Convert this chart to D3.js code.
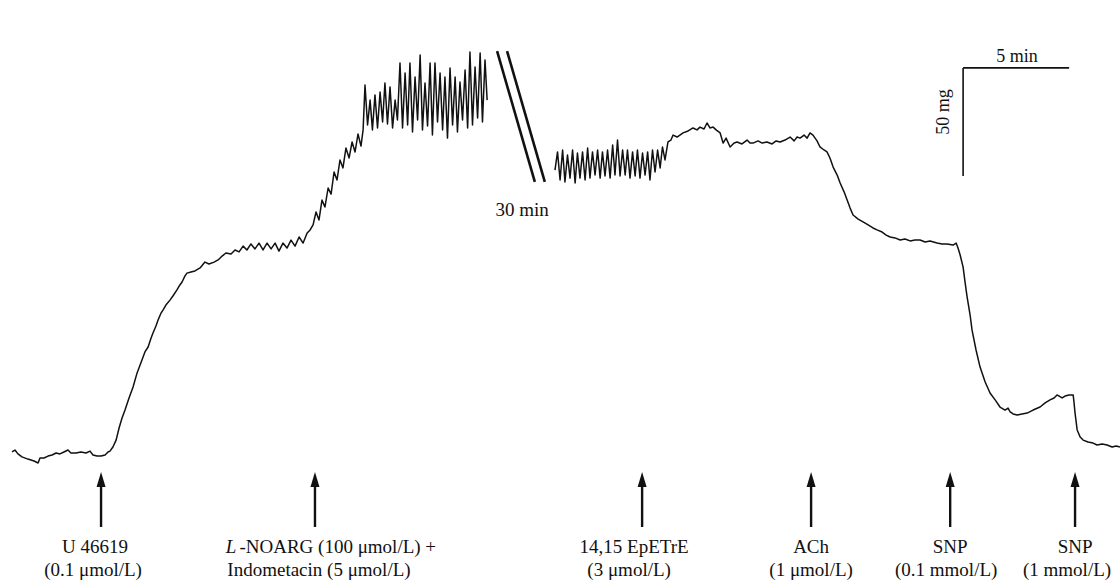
<!DOCTYPE html>
<html lang="en">
<head>
<meta charset="UTF-8">
<title>Isometric tension trace</title>
<script src="https://d3js.org/d3.v7.min.js"></script>
<style>
    body { margin: 0; background: #fff; }
    svg { display: block; }
    .trace { fill: none; stroke: #111; stroke-width: 1.5; stroke-linejoin: round; }
    .label { font-family: "Liberation Serif", "Times New Roman", serif; font-size: 19px; fill: #111; }
    .bar { stroke: #111; stroke-width: 1.6; }
    .brk { stroke: #111; stroke-width: 2.6; }
    .arrow line { stroke: #111; stroke-width: 2.4; }
    .arrow path { fill: #111; }
</style>
</head>
<body>
<svg id="chart"></svg>
<script>
// trace before the break: [time (min), tension (mg)]
const traceBefore = [
    [0,2.8],[0.14,3.7],[0.28,1.9],[0.47,0.5],[0.75,-0.5],[1.04,-1.4],[1.23,-2.3],[1.32,0],[1.51,0],[1.70,0.9],
    [1.89,1.4],[2.08,2.3],[2.26,1.9],[2.45,2.8],[2.64,3.7],[2.78,2.3],[3.02,2.3],[3.25,2.8],[3.49,2.3],[3.68,3.2],
    [3.82,1.4],[4.01,0.9],[4.20,0.9],[4.39,1.4],[4.53,2.8],[4.62,3.2],[4.76,5.1],[4.91,8.3],[5.05,13.9],[5.19,18.5],
    [5.33,22.2],[5.52,27.8],[5.71,32.9],[5.90,39.4],[6.13,45.4],[6.27,49.1],[6.42,51.4],[6.56,55.6],[6.65,57.9],[6.79,61.1],
    [6.89,63.9],[7.03,67.1],[7.12,68.5],[7.26,70.8],[7.45,73.1],[7.59,75.0],[7.78,77.8],[7.92,80.1],[8.02,81.5],[8.16,84.3],
    [8.25,85.6],[8.44,86.1],[8.63,86.6],[8.87,88.0],[9.10,90.7],[9.29,89.8],[9.53,90.7],[9.72,91.7],[9.91,93.5],[10.09,94.9],
    [10.33,94.4],[10.52,96.3],[10.71,95.4],[10.90,98.1],[11.08,96.3],[11.27,99.1],[11.46,96.8],[11.65,99.5],[11.84,96.3],[12.03,99.5],
    [12.22,96.8],[12.41,99.5],[12.59,95.8],[12.78,99.5],[12.97,97.2],[13.16,100.9],[13.35,98.1],[13.54,102.3],[13.73,99.5],[13.92,104.2],
    [14.06,105.6],[14.20,107.9],[14.34,113.9],[14.48,110.2],[14.62,119.4],[14.76,116.2],[14.91,125.0],[15.05,122.2],[15.19,132.4],[15.33,128.7],
    [15.47,138.0],[15.61,134.3],[15.75,143.5],[15.90,138.9],[16.04,146.3],[16.18,141.7],[16.32,150.0],[16.46,144.4],[16.56,151.9],
    [16.65,172.7],[16.77,154.2],[16.89,165.7],[17.00,151.9],[17.12,168.1],[17.24,152.8],[17.36,169.4],[17.48,155.6],[17.59,173.6],[17.71,154.6],
    [17.83,171.8],[17.95,152.8],[18.07,165.7],[18.18,156.5],[18.30,182.9],[18.42,152.8],[18.54,178.2],[18.66,154.2],[18.77,182.9],[18.89,150.9],
    [19.01,176.4],[19.13,156.5],[19.25,186.6],[19.36,151.9],[19.48,173.6],[19.60,153.7],[19.72,182.9],[19.83,149.5],[19.95,182.9],[20.07,155.6],
    [20.19,178.2],[20.31,151.9],[20.42,176.4],[20.54,148.1],[20.66,180.6],[20.78,154.2],[20.90,176.4],[21.01,150.9],[21.13,174.1],[21.25,156.5],
    [21.37,179.6],[21.49,152.8],[21.60,188.0],[21.72,154.2],[21.84,181.0],[21.96,157.4],[22.08,187.5],[22.19,155.6],[22.31,184.3],[22.41,165.7]
];

// trace after the 30 min break
const traceAfter = [
    [25.61,133.3],[25.73,141.7],[25.85,128.7],[25.97,142.6],[26.08,127.8],[26.20,140.3],[26.32,129.6],[26.44,142.6],[26.56,127.3],[26.67,141.2],
    [26.79,129.6],[26.91,141.7],[27.03,128.7],[27.15,143.5],[27.26,129.6],[27.38,141.7],[27.50,131.0],[27.62,142.6],[27.74,129.6],[27.85,141.7],
    [27.97,130.6],[28.09,142.6],[28.21,129.6],[28.33,144.9],[28.44,131.0],[28.56,147.2],[28.68,130.6],[28.80,142.6],[28.92,131.0],[29.03,142.6],
    [29.15,129.6],[29.27,141.7],[29.39,130.6],[29.50,142.6],[29.62,129.6],[29.74,141.2],[29.86,131.0],[29.98,141.7],[30.09,128.7],[30.21,142.6],
    [30.33,132.4],[30.45,142.6],[30.57,134.3],[30.68,144.0],[30.80,138.0],[30.94,146.3],
    [31.08,147.2],[31.18,149.5],[31.37,148.6],[31.65,150.5],[31.89,151.4],[32.12,152.8],[32.31,151.9],[32.45,153.2],[32.64,152.3],[32.78,155.1],
    [32.92,152.8],[33.07,153.2],[33.21,151.9],[33.40,150.5],[33.54,145.8],[33.68,148.1],[33.87,144.0],[34.06,145.8],[34.20,146.3],[34.43,145.4],
    [34.67,147.2],[34.81,145.8],[34.95,145.8],[35.19,146.8],[35.38,145.8],[35.61,146.3],[35.85,145.4],[36.04,146.8],[36.23,146.3],[36.46,147.2],
    [36.70,148.6],[36.89,146.8],[37.03,148.6],[37.17,148.1],[37.36,149.5],[37.50,148.1],[37.64,150.5],[37.78,149.5],[37.97,146.8],[38.11,144.0],
    [38.30,142.6],[38.44,141.7],[38.58,138.9],[38.73,134.7],[38.92,131.0],[39.06,127.3],[39.25,123.1],[39.39,119.4],[39.53,115.7],[39.67,112.5],
    [39.91,110.6],[40.14,109.3],[40.38,107.9],[40.61,106.5],[40.80,105.6],[41.04,104.6],[41.23,103.2],[41.42,102.3],[41.65,101.9],[41.89,100.9],
    [42.12,101.4],[42.36,100.5],[42.59,100.9],[42.83,100.9],[43.07,100.0],[43.30,100.5],[43.63,99.5],[43.87,99.1],[44.10,99.1],[44.39,98.6],
    [44.53,99.5],[44.62,97.2],[44.72,94.0],[44.86,88.4],[44.95,81.5],[45.05,74.5],[45.19,66.2],[45.28,59.3],[45.47,50.0],[45.66,42.1],
    [45.90,35.2],[46.13,30.1],[46.37,26.9],[46.60,23.6],[46.84,22.2],[46.98,23.1],[47.08,21.3],[47.22,20.4],[47.41,19.9],[47.64,20.4],
    [47.88,20.8],[48.16,22.2],[48.49,23.6],[48.73,25.5],[48.96,26.9],[49.15,27.8],[49.29,29.2],[49.53,27.8],[49.67,28.7],[49.86,29.2],
    [50.05,29.2],[50.09,25.9],[50.14,20.8],[50.24,13.0],[50.38,9.7],[50.52,8.3],[50.75,7.4],[50.99,6.9],[51.18,6.0],[51.42,6.5],
    [51.65,6.0],[51.89,5.1],[52.08,5.6],[52.26,5.1]
];

// drug additions (min) and their labels
const eventTimes = [4.20, 14.29, 29.72, 37.69, 44.25, 50.14];
const eventLine1 = ["U 46619", "L-NOARG (100 μmol/L) +", "14,15 EpETrE", "ACh", "SNP", "SNP"];
const eventLine2 = ["(0.1 μmol/L)", "Indometacin (5 μmol/L)", "(3 μmol/L)", "(1 μmol/L)", "(0.1 mmol/L)", "(1 mmol/L)"];

// calibration bar and break
const scaleBarMin = 5;
const scaleBarMg = 50;
const scaleBarAt = [44.86, 180.6];
const breakStarts = [22.88, 23.35];
const breakLabel = "30 min";

const width = 1120;
const height = 586;

// small horizontal nudges of the label lines (px), as typeset in the figure
const line1Nudge = [-6, 16, -8, 0, 0, 0];
const line2Nudge = [-8, 4, -13, 0, -4, -8];

const svg = d3.select("#chart")
    .attr("width", width)
    .attr("height", height);

// 5 min = 106 px, 50 mg = 108 px
const x = d3.scaleLinear().domain([0, 52.26]).range([12, 1120]);
const y = d3.scaleLinear().domain([0, 200]).range([458, 26]);

const line = d3.line()
    .x(d => x(d[0]))
    .y(d => y(d[1]));

svg.append("path").datum(traceBefore).attr("class", "trace").attr("d", line);
svg.append("path").datum(traceAfter).attr("class", "trace").attr("d", line);

// double slash for the 30 min gap
breakStarts.forEach(function(t) {
    svg.append("line")
        .attr("class", "brk")
        .attr("x1", x(t)).attr("y1", y(188.4))
        .attr("x2", x(t + 1.78)).attr("y2", y(127.8));
});
svg.append("text")
    .attr("class", "label")
    .attr("x", x(24.06))
    .attr("y", y(112))
    .attr("text-anchor", "middle")
    .text(breakLabel);

// calibration bars
const bx = x(scaleBarAt[0]);
const by = y(scaleBarAt[1]);
svg.append("line").attr("class", "bar")
    .attr("x1", bx).attr("y1", by)
    .attr("x2", x(scaleBarAt[0] + scaleBarMin)).attr("y2", by);
svg.append("line").attr("class", "bar")
    .attr("x1", bx).attr("y1", by)
    .attr("x2", bx).attr("y2", y(scaleBarAt[1] - scaleBarMg));
svg.append("text")
    .attr("class", "label")
    .attr("x", (bx + x(scaleBarAt[0] + scaleBarMin)) / 2 + 1)
    .attr("y", by - 6)
    .attr("text-anchor", "middle")
    .style("font-size", "18px")
    .text(scaleBarMin + " min");
svg.append("text")
    .attr("class", "label")
    .attr("transform", `translate(${bx - 14},${(by + y(scaleBarAt[1] - scaleBarMg)) / 2 - 10}) rotate(-90)`)
    .attr("text-anchor", "middle")
    .style("font-size", "18px")
    .text(scaleBarMg + " mg");

// arrows with labels
const ev = svg.selectAll(".arrow")
    .data(eventTimes)
    .enter().append("g")
    .attr("class", "arrow")
    .attr("transform", d => `translate(${x(d)},0)`);

ev.append("line")
    .attr("x1", 0).attr("x2", 0)
    .attr("y1", 484).attr("y2", 527);
ev.append("path")
    .attr("d", "M0,472L-4.5,487L4.5,487Z");

ev.each(function(d, i) {
    const g = d3.select(this);
    const t1 = g.append("text")
        .attr("class", "label")
        .attr("x", line1Nudge[i])
        .attr("y", 553)
        .attr("text-anchor", "middle");
    if (eventLine1[i].startsWith("L-")) {
        t1.append("tspan").style("font-style", "italic").text("L");
        t1.append("tspan").attr("dx", 3).text(eventLine1[i].slice(1));
    } else {
        t1.text(eventLine1[i]);
    }
    g.append("text")
        .attr("class", "label")
        .attr("x", line2Nudge[i])
        .attr("y", 576)
        .attr("text-anchor", "middle")
        .text(eventLine2[i]);
});
</script>
</body>
</html>
